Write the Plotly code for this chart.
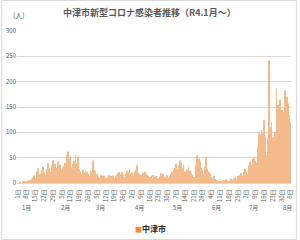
import pandas as pd
import plotly.graph_objects as go

# ---- data (daily new cases, Nakatsu city, 2022-01-01 .. 2022-08-06) ----
start_date = "2022-01-01"
jan = [0, 0, 1, 0, 2, 1, 3, 4, 5, 3, 6, 8, 12, 15, 10, 22, 29, 14, 18, 25, 32, 20, 16, 26, 39, 28, 22, 35, 45, 30, 38]
feb = [30, 42, 28, 36, 26, 30, 34, 40, 55, 62, 48, 52, 30, 38, 44, 55, 40, 52, 28, 22, 18, 26, 20, 24, 22, 18, 14, 25]
mar = [22, 45, 26, 24, 18, 12, 10, 16, 14, 12, 15, 10, 8, 11, 16, 14, 12, 15, 9, 13, 17, 20, 22, 18, 21, 16, 12, 19, 24, 22, 26]
apr = [18, 20, 14, 22, 26, 35, 20, 18, 16, 12, 20, 22, 18, 16, 14, 12, 9, 15, 16, 12, 14, 10, 9, 12, 19, 15, 18, 13, 11, 16]
may = [10, 14, 18, 22, 26, 30, 38, 28, 35, 45, 40, 30, 36, 22, 18, 26, 32, 24, 20, 16, 12, 9, 35, 55, 48, 42, 30, 24, 18, 32, 52]
jun = [28, 22, 18, 12, 9, 14, 8, 6, 5, 4, 3, 2, 5, 6, 4, 7, 5, 3, 4, 8, 6, 9, 11, 8, 14, 10, 16, 19, 15, 22]
jul = [28, 22, 18, 35, 42, 36, 48, 52, 44, 40, 72, 98, 96, 104, 100, 124, 92, 55, 88, 242, 110, 120, 90, 60, 100, 187, 154, 148, 165, 144, 140]
aug = [90, 183, 170, 157, 134, 120]

title_text = "中津市新型コロナ感染者推移（R4.1月〜）"
unit_text = "(人)"
series_name = "中津市"

values = jan + feb + mar + apr + may + jun + jul + aug
dates = pd.date_range(start_date, periods=len(values), freq="D")

# weekly tick labels
tick_dates = dates[::7]
tick_text = [f"{d.day}日" for d in tick_dates]

# month group labels
month_starts = [d for d in dates if d.day == 1]
last = dates[-1]

ORANGE = "#F3BB8C"
GRID = "#D9D9D9"
TXT = "#595959"

fig = go.Figure()
fig.add_trace(go.Bar(x=dates, y=values, marker=dict(color=ORANGE, line=dict(width=0)),
                     showlegend=False, name=series_name))

L, R, T, B = 16, 6, 31, 57
W, H = 300, 240
pw, ph = W - L - R, H - T - B

annotations = []
for ms in month_starts:
    end = min(ms + pd.offsets.MonthEnd(0), last)
    ndays = (end - ms).days + 1
    pos = ms + pd.Timedelta(days=min(7, (ndays - 1) / 2))
    annotations.append(dict(x=pos, y=(183 - 207) / ph, xref="x", yref="paper",
                            text=f"{ms.month}月", showarrow=False,
                            font=dict(size=6, color=TXT), xanchor="center", yanchor="middle"))

annotations.append(dict(x=(18 - L) / pw, y=(183 - 15) / ph, xref="paper", yref="paper",
                        text=unit_text, showarrow=False, font=dict(size=7, color=TXT),
                        xanchor="center", yanchor="middle"))
annotations.append(dict(x=(150 - L) / pw, y=(183 - 13) / ph, xref="paper", yref="paper",
                        text=f"<b>{title_text}</b>", showarrow=False,
                        font=dict(size=9, color=TXT), xanchor="center", yanchor="middle"))
annotations.append(dict(x=(151 - L) / pw, y=(183 - 228) / ph, xref="paper", yref="paper",
                        text=f"<span style='color:#ED8A3E;font-size:7px'>■</span><b>{series_name}</b>",
                        showarrow=False, font=dict(size=8, color="#262626"),
                        xanchor="center", yanchor="middle"))

fig.update_layout(
    width=W, height=H,
    margin=dict(l=L, r=R, t=T, b=B),
    paper_bgcolor="white", plot_bgcolor="white",
    font=dict(family="Noto Sans CJK JP, sans-serif", color=TXT),
    bargap=0.3,
    annotations=annotations,
    shapes=[dict(type="rect", xref="paper", yref="paper",
                 x0=(0.5 - L) / pw, x1=(W - 0.5 - L) / pw,
                 y0=(183 - (H - 0.5)) / ph, y1=(183 - 0.5) / ph,
                 line=dict(color=GRID, width=1), fillcolor="rgba(0,0,0,0)", layer="below")],
)
fig.update_xaxes(
    type="date",
    range=[dates[0] - pd.Timedelta(hours=12), dates[-1] + pd.Timedelta(hours=12)],
    tickmode="array", tickvals=tick_dates, ticktext=tick_text, tickangle=-90,
    tickfont=dict(size=6, color=TXT), showgrid=False, showline=True, linecolor=GRID,
    ticks="", ticklen=0, ticklabelstandoff=3,
)
fig.update_yaxes(
    range=[0, 300], dtick=50, tickfont=dict(size=6, color=TXT),
    showgrid=True, gridcolor=GRID, gridwidth=1, zeroline=False, showline=False, ticks="",
)

fig.write_html("out.html")
